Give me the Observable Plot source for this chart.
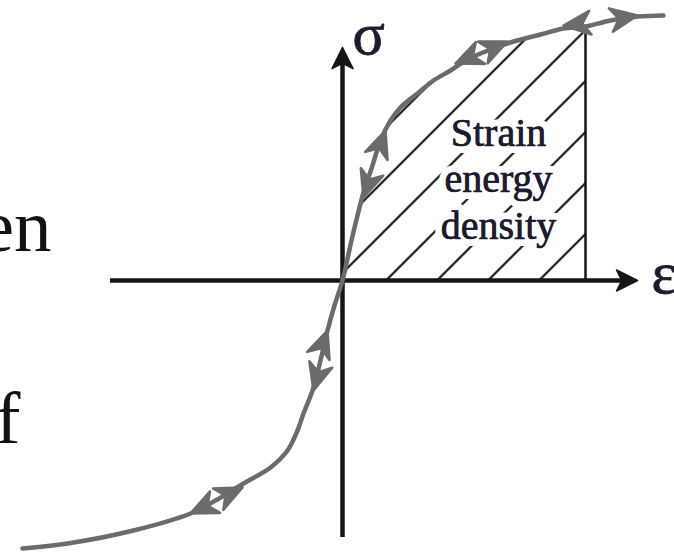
<!DOCTYPE html>
<html><head><meta charset="utf-8">
<script src="https://cdn.jsdelivr.net/npm/d3@7"></script>
<script src="https://cdn.jsdelivr.net/npm/@observablehq/plot@0.6"></script>
<style>html,body{margin:0;padding:0;background:#fff;overflow:hidden}</style>
</head><body><div id="chart"></div>
<script>
// Stress–strain curve (strain ε, stress σ)
const curveStrain = [-3.20,-2.75,-2.09,-1.52,-1.27,-0.99,-0.72,-0.55,-0.45,-0.39,-0.30,-0.22,-0.15,-0.08,0,0.09,0.15,0.21,0.30,0.38,0.48,0.58,0.75,0.91,1.08,1.23,1.38,1.68,1.98,2.21,2.43,2.68,2.95,3.21];
const curveStress = [-2.68,-2.63,-2.50,-2.33,-2.20,-2.03,-1.87,-1.70,-1.50,-1.33,-1.10,-0.80,-0.50,-0.25,0,0.40,0.65,0.88,1.15,1.40,1.60,1.73,1.87,2.00,2.10,2.20,2.27,2.38,2.46,2.52,2.54,2.60,2.64,2.65];

// Strain at which the hatched (strain energy density) region ends
const hatchEndStrain = 2.43;

// Arrowheads along the curve: tip point and a point behind it on the curve
const arrowTipStrain  = [-1.52,-1.00,-0.29,-0.15,0.21,0.43,1.13,1.65,2.21,2.95];
const arrowTipStress  = [-2.33,-2.07,-1.10,-0.50,0.83,1.50,2.17,2.39,2.55,2.65];
const arrowBackStrain = [-1.24,-1.27,-0.22,-0.24,0.30,0.34,1.39,1.38,2.50,2.66];
const arrowBackStress = [-2.20,-2.20,-0.85,-0.75,1.10,1.25,2.28,2.27,2.58,2.60];

// Axis extents
const axisStrain = [-2.32, 2.95];
const axisStress = [-2.57, 2.33];

// Text
const blockLabel = "Strain\nenergy\ndensity";
const blockPos = [1.56, 0.42];
const axisLabels = ["σ", "ε"];
const axisLabelStrain = [0.10, 3.09];
const axisLabelStress = [2.27, -0.12];
const sideTexts = ["en", "f"];
const sideTextStrain = [-2.91, -3.22];
const sideTextStress = [0.30, -1.62];

// ---- build ----
const W = 674, H = 553;
const xDomain = [-3.42, 3.32], yDomain = [-2.73, 2.80];
const kx = W / (xDomain[1] - xDomain[0]);
const ky = H / (yDomain[1] - yDomain[0]);

const curve = curveStrain.map((e, i) => ({e, s: curveStress[i]}));
const areaPts = curve.filter(d => d.e >= 0 && d.e <= hatchEndStrain);
const hatchTop = curve.find(d => d.e === hatchEndStrain).s;

// Arrowhead polygon (in data units) from a tip and a direction
function headPolygon(id, te, ts, be, bs, len, half, notch) {
  let dx = (te - be) * kx, dy = -(ts - bs) * ky;
  const n = Math.hypot(dx, dy); dx /= n; dy /= n;
  const px = -dy, py = dx;
  const toData = (ox, oy) => ({id, e: te + ox / kx, s: ts - oy / ky});
  return [
    toData(0, 0),
    toData(-len * dx + half * len * px, -len * dy + half * len * py),
    toData(-len * (1 - notch) * dx, -len * (1 - notch) * dy),
    toData(-len * dx - half * len * px, -len * dy - half * len * py),
    toData(0, 0)
  ];
}
const curveHeads = arrowTipStrain.flatMap((e, i) =>
  headPolygon(i, e, arrowTipStress[i], arrowBackStrain[i], arrowBackStress[i], 27, 0.44, 0.3));
const axisHeads = [
  ...headPolygon("x", axisStrain[1], 0, axisStrain[0], 0, 21, 0.5, 0.25),
  ...headPolygon("y", 0, axisStress[1], 0, axisStress[0], 21, 0.5, 0.25)
];
const shaftGap = 10 / kx;

const gray = "#6b6b6b", ink = "#151515", textInk = "#1c1c30";
const serif = "Liberation Serif, Times New Roman, serif";

const labels = axisLabels.map((t, i) => ({t, e: axisLabelStrain[i], s: axisLabelStress[i]}));
const sides = sideTexts.map((t, i) => ({t, e: sideTextStrain[i], s: sideTextStress[i]}));
const blockOpts = {x: blockPos[0], y: blockPos[1], text: d => d, textAnchor: "middle", lineAnchor: "bottom",
  lineHeight: 1.16, fontSize: 40, fontFamily: serif, fill: textInk};

const svg = Plot.plot({
  width: W, height: H,
  margin: 0,
  x: {domain: xDomain, range: [0, W], axis: null},
  y: {domain: yDomain, range: [H, 0], axis: null},
  marks: [
    Plot.areaY(areaPts, {x: "e", y1: 0, y2: "s", fill: "url(#hatch)", curve: "catmull-rom"}),
    Plot.ruleX([hatchEndStrain], {y1: 0, y2: hatchTop, stroke: ink, strokeWidth: 2.5}),
    Plot.text([blockLabel], {...blockOpts, stroke: "white", strokeWidth: 14}),
    Plot.text([blockLabel], {...blockOpts, stroke: textInk, strokeWidth: 0.6}),
    Plot.ruleY([0], {x1: axisStrain[0], x2: axisStrain[1] - shaftGap, stroke: ink, strokeWidth: 4.5}),
    Plot.ruleX([0], {y1: axisStress[0], y2: axisStress[1] - shaftGap, stroke: ink, strokeWidth: 4.5}),
    Plot.line(axisHeads, {x: "e", y: "s", z: "id", fill: ink, stroke: ink, strokeWidth: 1.5, strokeLinejoin: "round"}),
    Plot.line(curve, {x: "e", y: "s", curve: "catmull-rom", stroke: gray, strokeWidth: 4.5, strokeLinecap: "round"}),
    Plot.line(curveHeads, {x: "e", y: "s", z: "id", fill: gray, stroke: gray, strokeWidth: 2.5, strokeLinejoin: "round"}),
    Plot.text(labels, {x: "e", y: "s", text: "t", textAnchor: "start", lineAnchor: "bottom", fontSize: 60, fontFamily: serif, fill: textInk, stroke: textInk, strokeWidth: 0.8}),
    Plot.text(sides, {x: "e", y: "s", text: "t", textAnchor: "end", lineAnchor: "bottom", fontSize: 75, fontFamily: serif, fill: "#111"})
  ]
});

const ns = "http://www.w3.org/2000/svg";
const defs = document.createElementNS(ns, "defs");
const pat = document.createElementNS(ns, "pattern");
pat.setAttribute("id", "hatch");
pat.setAttribute("patternUnits", "userSpaceOnUse");
pat.setAttribute("x", "3.5"); pat.setAttribute("y", "0");
pat.setAttribute("width", "51"); pat.setAttribute("height", "51");
const p = document.createElementNS(ns, "path");
p.setAttribute("d", "M-3,3 L3,-3 M0,51 L51,0 M48,54 L54,48");
p.setAttribute("stroke", ink); p.setAttribute("stroke-width", "2.2");
pat.appendChild(p); defs.appendChild(pat);
svg.insertBefore(defs, svg.firstChild);
document.getElementById("chart").appendChild(svg);
</script></body></html>
